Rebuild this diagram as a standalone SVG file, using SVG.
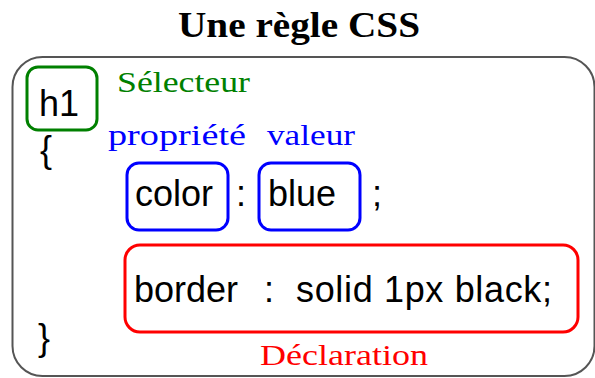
<svg xmlns="http://www.w3.org/2000/svg" width="595" height="378" viewBox="0 0 595 378">
  <style>
    .code { font-family: "Liberation Sans", Arial, sans-serif; font-size: 36px; fill: #000; }
    .lbl { font-family: "Liberation Serif", "Times New Roman", serif; font-size: 30px; }
    .box { fill: none; stroke-width: 3; }
  </style>
  <rect width="595" height="378" fill="#fff"/>
  <text x="299" y="37" text-anchor="middle" font-family="Liberation Serif, Times New Roman, serif" font-weight="bold" font-size="35" textLength="242" lengthAdjust="spacingAndGlyphs">Une règle CSS</text>
  <rect id="outer" x="12.5" y="57" width="582" height="319" rx="30" ry="30" fill="none" stroke="#555" stroke-width="2"/>

  <g id="selecteur">
    <rect class="box" x="27" y="67" width="70" height="63" rx="11" stroke="#008000"/>
    <text class="code" x="39" y="116" font-size="34">h1</text>
    <text class="lbl" x="117" y="92" fill="#008000" textLength="133" lengthAdjust="spacingAndGlyphs">Sélecteur</text>
  </g>

  <text class="code" x="40" y="162" font-size="32">{</text>

  <g id="propriete">
    <text class="lbl" x="108" y="145" fill="#0000ff" textLength="138" lengthAdjust="spacingAndGlyphs">propriété</text>
    <rect class="box" x="127" y="163" width="101" height="67" rx="12" stroke="#0000ff"/>
    <text class="code" x="135" y="206">color</text>
  </g>

  <text class="code" x="236" y="206">:</text>

  <g id="valeur">
    <text class="lbl" x="267" y="145" fill="#0000ff" textLength="88" lengthAdjust="spacingAndGlyphs">valeur</text>
    <rect class="box" x="259" y="163" width="101" height="67" rx="12" stroke="#0000ff"/>
    <text class="code" x="268" y="206">blue</text>
  </g>

  <text class="code" x="372" y="206">;</text>

  <g id="declaration">
    <rect class="box" x="125" y="245" width="453" height="87" rx="15" stroke="#ff0000"/>
    <text class="code" x="134" y="302">border</text>
    <text class="code" x="264" y="302">:</text>
    <text class="code" x="296" y="302" textLength="256">solid 1px black;</text>
    <text class="lbl" x="260" y="365" fill="#ff0000" textLength="168" lengthAdjust="spacingAndGlyphs">Déclaration</text>
  </g>

  <text class="code" x="38" y="350" font-size="32">}</text>
  <g id="connectors"/>
</svg>
